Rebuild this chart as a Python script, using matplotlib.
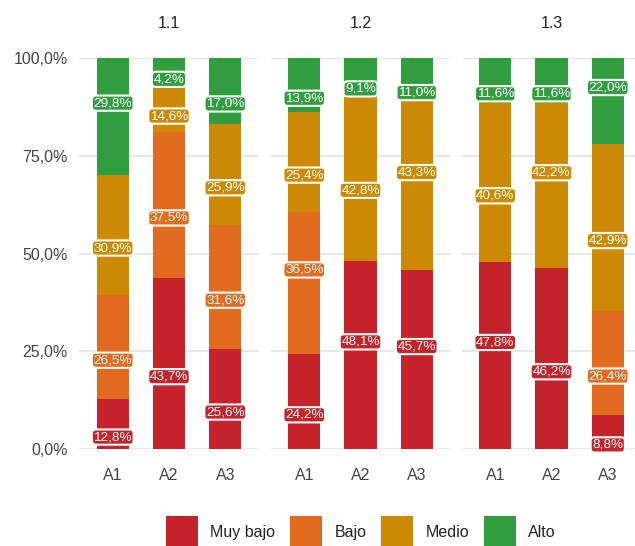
import numpy as np
import matplotlib
matplotlib.use("Agg")
import matplotlib.pyplot as plt
from matplotlib.patches import Patch

plt.rcParams["font.family"] = ["Liberation Sans", "DejaVu Sans"]

panels = ["1.1", "1.2", "1.3"]
groups = ["A1", "A2", "A3"]
levels = ["Muy bajo", "Bajo", "Medio", "Alto"]
colors = ["#C6222A", "#E26B1F", "#CC8A02", "#309E3F"]

# values per panel: rows = A1..A3, columns = Muy bajo, Bajo, Medio, Alto
vals_11 = [[12.8, 26.5, 30.9, 29.8],
           [43.7, 37.5, 14.6, 4.2],
           [25.6, 31.6, 25.9, 17.0]]
vals_12 = [[24.2, 36.5, 25.4, 13.9],
           [48.1, 0.0, 42.8, 9.1],
           [45.7, 0.0, 43.3, 11.0]]
vals_13 = [[47.8, 0.0, 40.6, 11.6],
           [46.2, 0.0, 42.2, 11.6],
           [8.8, 26.4, 42.9, 22.0]]

# label nudge direction (up/down from segment centre)
nudge_11 = [[-1, -1, -1, 1], [-1, -1, -1, -1], [-1, -1, -1, -1]]
nudge_12 = [[-1, 1, -1, -1], [1, 0, -1, -1], [1, 0, 1, -1]]
nudge_13 = [[1, 0, -1, -1], [-1, 0, 1, -1], [-1, -1, -1, 1]]

all_vals = [vals_11, vals_12, vals_13]
all_nudge = [nudge_11, nudge_12, nudge_13]

W, H = 635, 546
fig = plt.figure(figsize=(W / 100, H / 100), dpi=100)

def fx(px):
    return px / W

ax_w = 180
lefts = [79, 270.5, 461.5]
bottom = (H - 449) / H
height = (449 - 58) / H

fmt = lambda v: f"{v:.1f}".replace(".", ",") + "%"

for p, title in enumerate(panels):
    ax = fig.add_axes([fx(lefts[p]), bottom, fx(ax_w), height])
    data = np.array(all_vals[p])
    nud = np.array(all_nudge[p])
    x = np.arange(1, len(groups) + 1)
    base = np.zeros(len(groups))
    for j, lev in enumerate(levels):
        ax.bar(x, data[:, j], bottom=base, width=0.57, color=colors[j], zorder=2, linewidth=0)
        for i in range(len(groups)):
            v = data[i, j]
            if v <= 0:
                continue
            y = base[i] + v / 2 + 3.35 * nud[i, j]
            ax.text(x[i], y, fmt(v), ha="center", va="center", color="white",
                    fontsize=9.7, zorder=5, clip_on=False,
                    bbox=dict(boxstyle="round,pad=0.12,rounding_size=0.3",
                              fc=colors[j], ec="white", lw=1.5))
        base += data[:, j]
    ax.set_xlim(0.4, 3.6)
    ax.set_ylim(0, 100)
    ax.set_yticks([0, 25, 50, 75, 100])
    ax.yaxis.grid(True, color="#e6e6e6", lw=1.3, zorder=0)
    ax.set_axisbelow(True)
    for s in ax.spines.values():
        s.set_visible(False)
    ax.set_xticks(x)
    ax.set_xticklabels(groups, fontsize=11.5, color="#444444")
    ax.tick_params(axis="both", length=0)
    ax.tick_params(axis="x", pad=13.5)
    ax.tick_params(axis="y", pad=8)
    if p == 0:
        ax.set_yticklabels([fmt(t) for t in [0, 25, 50, 75, 100]], fontsize=11.5, color="#444444")
    else:
        ax.set_yticklabels([])
    fig.text(fx(lefts[p] + ax_w / 2), 1 - 24 / H, title, ha="center", va="center",
             fontsize=11.5, color="#222222")

handles = [Patch(facecolor=c, edgecolor="none") for c in colors]
fig.legend(handles, levels, loc="lower center", bbox_to_anchor=(fx(361), -0.019),
           ncol=4, frameon=False, fontsize=11.5, handlelength=2.0, handleheight=2.7,
           handletextpad=0.75, columnspacing=0.95, borderpad=0, labelcolor="#222222")

fig.savefig("out.png", dpi=100)
